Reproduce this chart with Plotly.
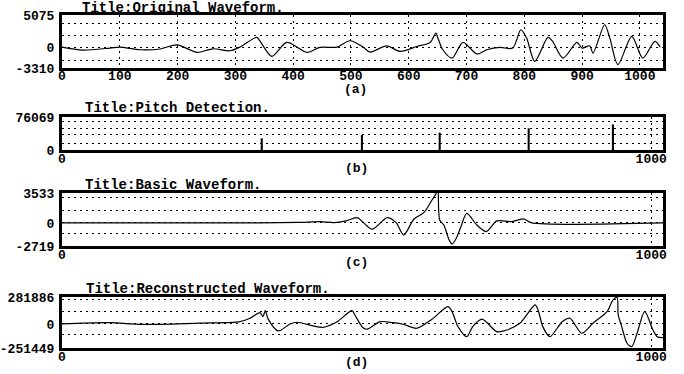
import plotly.graph_objects as go

# ---- (a) original speech waveform (sample index, amplitude) ----
orig_n = [0, 36, 83, 100, 135, 170, 199, 234, 261, 291, 308, 337, 343, 363, 389,
          424, 446, 476, 498, 521, 533, 562, 585, 614, 637, 647, 651, 659, 675,
          694, 718, 735, 758, 780, 794, 804, 818, 841, 849, 867, 891, 900, 913,
          919, 939, 948, 962, 986, 1005, 1026, 1035]
orig_v = [0, -470, -150, 0, -420, -300, 360, -840, -270, -580, 0, 1530, 900,
          -1470, 740, -840, -50, 0, 1000, 0, -790, 200, -680, 100, 740, 2210,
          1310, -420, -1740, 740, -1100, -420, -50, -160, 2740, 1420, -2260,
          1530, 900, -1740, 740, -160, 200, -950, 3530, 1420, -2790, 1690,
          -1740, 900, 0]

# ---- (b) detected pitch pulses ----
pitch_n = [339, 509, 641, 792, 935]
pitch_v = [27000, 34600, 40000, 50000, 59000]

# ---- (c) basic (single period) waveform ----
basic_n = [0, 300, 400, 438, 462, 482, 501, 526, 552, 567, 580, 597, 614, 628,
           635, 638, 641, 648, 657, 662, 669, 677, 687, 704, 720, 738, 762,
           784, 796, 1020]
basic_v = [0, 0, 60, 150, 40, 240, 630, -740, 630, 40, -1420, 440, 1220, 2710,
           3500, 4280, 350, -240, -2000, -2480, -1810, -440, 1140, -240, -1020,
           240, 150, 470, 40, 0]

# ---- (d) reconstructed waveform ----
recon_n = [0, 81, 137, 234, 302, 319, 336, 341, 345, 350, 367, 387, 399, 426,
           443, 467, 492, 497, 511, 518, 540, 562, 579, 602, 628, 655, 662, 672,
           687, 697, 713, 738, 755, 777, 803, 808, 816, 828, 849, 862, 882, 901,
           925, 935, 942, 944, 950, 959, 967, 976, 989, 1003, 1010, 1020]
recon_v = [0, 13000, -5000, 8000, 24000, 60000, 118000, 76000, 139000, 50000,
           -73000, 0, 18000, -20000, -35000, 24000, 139000, 94000, -40000,
           -55000, 24000, 13000, -3000, -45000, 50000, 181000, 129000, -28000,
           -133000, -28000, 50000, -80000, -63000, 7000, 199000, 146000, -28000,
           -133000, 24000, 60000, -97000, 7000, 129000, 250000, 278000, 94000,
           -28000, -202000, -237000, -97000, 129000, -63000, -133000, -143000]

titles = ["Title:Original Waveform.", "Title:Pitch Detection.",
          "Title:Basic Waveform.", "Title:Reconstructed Waveform."]
captions = ["(a)", "(b)", "(c)", "(d)"]
y_ranges = [(-3310, 5075), (0, 76069), (-2719, 3533), (-251449, 281886)]
y_grids = [[3790, 1790, -2160], [66800, 50700, 34600, 16100],
           [2950, 1420, -1300], [254000, 129000, -115000]]
x_ticks_a = list(range(0, 1001, 100))
x_ticks_other = [0, 1000]

W, H = 684, 374
FONT = "Liberation Mono"
X0, X1 = 62, 663
frames = [(15, 68), (117, 150), (193, 246), (297, 348)]   # top, bottom in px
title_pos = [(80, 8), (83, 108), (83, 185), (84, 289)]
caption_pos = [(355, 89), (356, 168), (356, 262), (356, 362)]

fig = go.Figure()
line = dict(color="black", width=1.2, shape="spline", smoothing=0.8)
fig.add_trace(go.Scatter(x=orig_n, y=orig_v, mode="lines", line=line,
                         xaxis="x", yaxis="y", hoverinfo="skip"))
fig.add_trace(go.Bar(x=pitch_n, y=pitch_v, width=3.5, marker_color="black",
                     marker_line_width=0, xaxis="x2", yaxis="y2", hoverinfo="skip"))
fig.add_trace(go.Scatter(x=basic_n, y=basic_v, mode="lines", line=line,
                         xaxis="x3", yaxis="y3", hoverinfo="skip"))
fig.add_trace(go.Scatter(x=recon_n, y=recon_v, mode="lines", line=line,
                         xaxis="x4", yaxis="y4", hoverinfo="skip"))

layout = dict(width=W, height=H, margin=dict(l=0, r=0, t=0, b=0),
              paper_bgcolor="white", plot_bgcolor="white", showlegend=False,
              font=dict(family=FONT, color="black", size=13))
annotations = []
for i in range(4):
    sfx = "" if i == 0 else str(i + 1)
    top, bot = frames[i]
    ylo, yhi = y_ranges[i]
    xt = x_ticks_a if i == 0 else x_ticks_other
    xr = [0, 1040] if i == 0 else [0, 1020]
    layout["xaxis" + sfx] = dict(
        domain=[X0 / W, X1 / W], range=xr, anchor="y" + sfx,
        tickmode="array", tickvals=xt, ticktext=[str(v) for v in xt],
        showline=True, mirror=True, linewidth=3, linecolor="black",
        ticks="", showgrid=True, gridcolor="black", gridwidth=1,
        griddash="2px,4px", zeroline=False, automargin=False,
        tickfont=dict(family=FONT, size=13, color="black", weight="bold"),
        ticklabelstandoff=-7 if i == 0 else -6, fixedrange=True)
    yt = [ylo, 0, yhi] if ylo < 0 else [ylo, yhi]
    layout["yaxis" + sfx] = dict(
        domain=[1 - bot / H, 1 - top / H], range=[ylo, yhi], anchor="x" + sfx,
        tickmode="array", tickvals=yt, ticktext=[str(v) for v in yt],
        showline=True, mirror=True, linewidth=3, linecolor="black",
        ticks="", showgrid=True, gridcolor="black", gridwidth=1,
        griddash="2px,4px", zeroline=False, automargin=False,
        minor=dict(tickmode="array", tickvals=y_grids[i], showgrid=True,
                   gridcolor="black", gridwidth=1, griddash="2px,4px", ticks=""),
        tickfont=dict(family=FONT, size=13, color="black", weight="bold"),
        ticklabelstandoff=2, fixedrange=True)
    tx, ty = title_pos[i]
    annotations.append(dict(text=titles[i], xref="paper", yref="paper",
                            x=tx / W, y=1 - ty / H, xanchor="left", yanchor="middle",
                            showarrow=False,
                            font=dict(family=FONT, size=14, color="black", weight="bold")))
    cx, cy = caption_pos[i]
    annotations.append(dict(text=captions[i], xref="paper", yref="paper",
                            x=cx / W, y=1 - cy / H, xanchor="center", yanchor="middle",
                            showarrow=False,
                            font=dict(family=FONT, size=13, color="black", weight="bold")))
layout["annotations"] = annotations
fig.update_layout(**layout)

fig.write_html("out.html", config={"displayModeBar": False})
